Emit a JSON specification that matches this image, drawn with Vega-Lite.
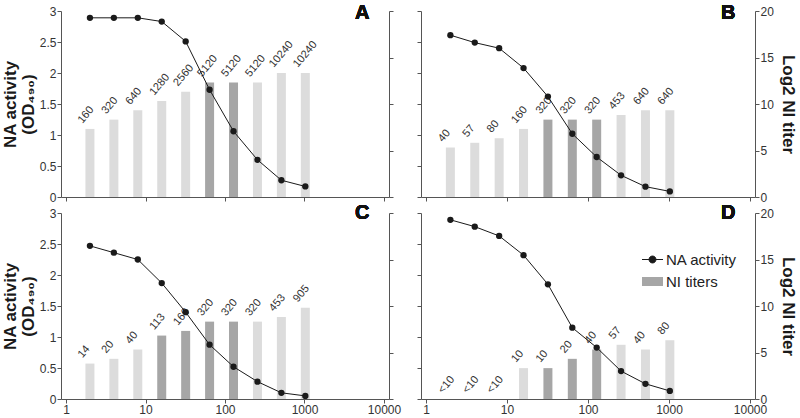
{
  "$schema": "https://vega.github.io/schema/vega-lite/v6.json",
  "padding": {"left": 1, "top": 2, "right": 1, "bottom": 1},
  "bounds": "flush",
  "columns": 2,
  "spacing": {"row": 16, "column": 32},
  "config": {
    "view": {"stroke": null},
    "font": "Liberation Sans",
    "axis": {"grid": false, "domainColor": "#555", "tickColor": "#555", "labelColor": "#333", "labelFontSize": 12, "labelFont": "Liberation Sans", "tickSize": 4, "labelPadding": 1, "titleFontSize": 17, "titleFontWeight": "bold", "titleColor": "#1a1a1a", "titleFont": "Liberation Sans"}
  },
  "datasets": {
    "A": [
      {"dil": 2, "na": 2.89, "log2": 7.32, "titer": "160", "shade": "light"},
      {"dil": 4, "na": 2.89, "log2": 8.32, "titer": "320", "shade": "light"},
      {"dil": 8, "na": 2.89, "log2": 9.32, "titer": "640", "shade": "light"},
      {"dil": 16, "na": 2.83, "log2": 10.32, "titer": "1280", "shade": "light"},
      {"dil": 32, "na": 2.51, "log2": 11.32, "titer": "2560", "shade": "light"},
      {"dil": 64, "na": 1.73, "log2": 12.32, "titer": "5120", "shade": "NI titers"},
      {"dil": 128, "na": 1.06, "log2": 12.32, "titer": "5120", "shade": "NI titers"},
      {"dil": 256, "na": 0.60, "log2": 12.32, "titer": "5120", "shade": "light"},
      {"dil": 512, "na": 0.27, "log2": 13.32, "titer": "10240", "shade": "light"},
      {"dil": 1024, "na": 0.17, "log2": 13.32, "titer": "10240", "shade": "light"}
    ],
    "B": [
      {"dil": 2, "na": 2.61, "log2": 5.32, "titer": "40", "shade": "light"},
      {"dil": 4, "na": 2.49, "log2": 5.83, "titer": "57", "shade": "light"},
      {"dil": 8, "na": 2.40, "log2": 6.32, "titer": "80", "shade": "light"},
      {"dil": 16, "na": 2.08, "log2": 7.32, "titer": "160", "shade": "light"},
      {"dil": 32, "na": 1.62, "log2": 8.32, "titer": "320", "shade": "NI titers"},
      {"dil": 64, "na": 1.02, "log2": 8.32, "titer": "320", "shade": "NI titers"},
      {"dil": 128, "na": 0.645, "log2": 8.32, "titer": "320", "shade": "NI titers"},
      {"dil": 256, "na": 0.35, "log2": 8.82, "titer": "453", "shade": "light"},
      {"dil": 512, "na": 0.167, "log2": 9.32, "titer": "640", "shade": "light"},
      {"dil": 1024, "na": 0.09, "log2": 9.32, "titer": "640", "shade": "light"}
    ],
    "C": [
      {"dil": 2, "na": 2.47, "log2": 3.81, "titer": "14", "shade": "light"},
      {"dil": 4, "na": 2.36, "log2": 4.32, "titer": "20", "shade": "light"},
      {"dil": 8, "na": 2.25, "log2": 5.32, "titer": "40", "shade": "light"},
      {"dil": 16, "na": 1.87, "log2": 6.82, "titer": "113", "shade": "NI titers"},
      {"dil": 32, "na": 1.40, "log2": 7.32, "titer": "160", "shade": "NI titers"},
      {"dil": 64, "na": 0.876, "log2": 8.32, "titer": "320", "shade": "NI titers"},
      {"dil": 128, "na": 0.52, "log2": 8.32, "titer": "320", "shade": "NI titers"},
      {"dil": 256, "na": 0.28, "log2": 8.32, "titer": "320", "shade": "light"},
      {"dil": 512, "na": 0.10, "log2": 8.82, "titer": "453", "shade": "light"},
      {"dil": 1024, "na": 0.05, "log2": 9.82, "titer": "905", "shade": "light"}
    ],
    "D": [
      {"dil": 2, "na": 2.89, "log2": 0, "titer": "<10", "shade": "light"},
      {"dil": 4, "na": 2.78, "log2": 0, "titer": "<10", "shade": "light"},
      {"dil": 8, "na": 2.63, "log2": 0, "titer": "<10", "shade": "light"},
      {"dil": 16, "na": 2.32, "log2": 3.32, "titer": "10", "shade": "light"},
      {"dil": 32, "na": 1.85, "log2": 3.32, "titer": "10", "shade": "NI titers"},
      {"dil": 64, "na": 1.15, "log2": 4.32, "titer": "20", "shade": "NI titers"},
      {"dil": 128, "na": 0.83, "log2": 5.32, "titer": "40", "shade": "NI titers"},
      {"dil": 256, "na": 0.45, "log2": 5.83, "titer": "57", "shade": "light"},
      {"dil": 512, "na": 0.245, "log2": 5.32, "titer": "40", "shade": "light"},
      {"dil": 1024, "na": 0.13, "log2": 6.32, "titer": "80", "shade": "light"}
    ]
  },
  "resolve": {"scale": {"color": "independent"}, "legend": {"color": "independent"}},
  "concat": [
    {
      "width": 328, "height": 186,
      "data": {"name": "A"},
      "encoding": {"x": {"field": "dil", "type": "quantitative", "scale": {"type": "log", "domain": [1, 10000], "nice": false}, "axis": {"values": [1, 10, 100, 1000, 10000], "labels": false, "title": null}}},
      "layer": [
        {
          "encoding": {"y": {"field": "log2", "type": "quantitative", "scale": {"domain": [0, 20], "nice": false}, "axis": {"orient": "right", "values": [0, 5, 10, 15, 20], "labels": false, "title": null}}},
          "layer": [
            {"mark": {"type": "bar", "size": 9, "orient": "vertical"}, "encoding": {"color": {"field": "shade", "type": "nominal", "scale": {"domain": ["NA activity", "NI titers", "light"], "range": ["#1a1a1a", "#a6a6a6", "#dcdcdc"]}, "legend": null}}},
            {"mark": {"type": "text", "angle": -50, "align": "left", "baseline": "bottom", "dx": -1, "dy": -7, "fontSize": 11, "color": "#333"}, "encoding": {"text": {"field": "titer"}}}
          ]
        },
        {
          "encoding": {"y": {"field": "na", "type": "quantitative", "scale": {"domain": [0, 3], "nice": false}, "axis": {"orient": "left", "values": [0, 0.5, 1, 1.5, 2, 2.5, 3], "format": "~g", "title": ["NA activity", "(OD₄₉₀)"], "titlePadding": 2, "titleLineHeight": 18}}},
          "layer": [
            {"mark": {"type": "line", "color": "#1a1a1a", "strokeWidth": 1}},
            {"mark": {"type": "point", "filled": true, "color": "#1a1a1a", "size": 40, "opacity": 1}},
            {"mark": {"type": "text", "text": "A", "align": "right", "baseline": "alphabetic", "fontSize": 20, "fontWeight": "bold", "color": "#111"}, "encoding": {"x": {"datum": 6560}, "y": {"datum": 2.875}}}
          ]
        }
      ],
      "resolve": {"scale": {"y": "independent"}}
    },
    {
      "width": 334, "height": 186,
      "data": {"name": "B"},
      "encoding": {"x": {"field": "dil", "type": "quantitative", "scale": {"type": "log", "domain": [1, 10000], "nice": false}, "axis": {"values": [1, 10, 100, 1000, 10000], "labels": false, "title": null}}},
      "layer": [
        {
          "encoding": {"y": {"field": "log2", "type": "quantitative", "scale": {"domain": [0, 20], "nice": false}, "axis": {"orient": "right", "values": [0, 5, 10, 15, 20], "title": "Log2 NI titer", "titlePadding": 5}}},
          "layer": [
            {"mark": {"type": "bar", "size": 9, "orient": "vertical"}, "encoding": {"color": {"field": "shade", "type": "nominal", "scale": {"domain": ["NA activity", "NI titers", "light"], "range": ["#1a1a1a", "#a6a6a6", "#dcdcdc"]}, "legend": null}}},
            {"mark": {"type": "text", "angle": -50, "align": "left", "baseline": "bottom", "dx": -1, "dy": -7, "fontSize": 11, "color": "#333"}, "encoding": {"text": {"field": "titer"}}}
          ]
        },
        {
          "encoding": {"y": {"field": "na", "type": "quantitative", "scale": {"domain": [0, 3], "nice": false}, "axis": {"orient": "left", "values": [0, 0.5, 1, 1.5, 2, 2.5, 3], "labels": false, "title": null}}},
          "layer": [
            {"mark": {"type": "line", "color": "#1a1a1a", "strokeWidth": 1}},
            {"mark": {"type": "point", "filled": true, "color": "#1a1a1a", "size": 40, "opacity": 1}},
            {"mark": {"type": "text", "text": "B", "align": "right", "baseline": "alphabetic", "fontSize": 20, "fontWeight": "bold", "color": "#111"}, "encoding": {"x": {"datum": 6610}, "y": {"datum": 2.875}}}
          ]
        }
      ],
      "resolve": {"scale": {"y": "independent"}}
    },
    {
      "width": 328, "height": 186,
      "data": {"name": "C"},
      "encoding": {"x": {"field": "dil", "type": "quantitative", "scale": {"type": "log", "domain": [1, 10000], "nice": false}, "axis": {"values": [1, 10, 100, 1000, 10000], "format": "d", "title": null}}},
      "layer": [
        {
          "encoding": {"y": {"field": "log2", "type": "quantitative", "scale": {"domain": [0, 20], "nice": false}, "axis": {"orient": "right", "values": [0, 5, 10, 15, 20], "labels": false, "title": null}}},
          "layer": [
            {"mark": {"type": "bar", "size": 9, "orient": "vertical"}, "encoding": {"color": {"field": "shade", "type": "nominal", "scale": {"domain": ["NA activity", "NI titers", "light"], "range": ["#1a1a1a", "#a6a6a6", "#dcdcdc"]}, "legend": null}}},
            {"mark": {"type": "text", "angle": -50, "align": "left", "baseline": "bottom", "dx": -1, "dy": -7, "fontSize": 11, "color": "#333"}, "encoding": {"text": {"field": "titer"}}}
          ]
        },
        {
          "encoding": {"y": {"field": "na", "type": "quantitative", "scale": {"domain": [0, 3], "nice": false}, "axis": {"orient": "left", "values": [0, 0.5, 1, 1.5, 2, 2.5, 3], "format": "~g", "title": ["NA activity", "(OD₄₉₀)"], "titlePadding": 2, "titleLineHeight": 18}}},
          "layer": [
            {"mark": {"type": "line", "color": "#1a1a1a", "strokeWidth": 1}},
            {"mark": {"type": "point", "filled": true, "color": "#1a1a1a", "size": 40, "opacity": 1}},
            {"mark": {"type": "text", "text": "C", "align": "right", "baseline": "alphabetic", "fontSize": 20, "fontWeight": "bold", "color": "#111"}, "encoding": {"x": {"datum": 6560}, "y": {"datum": 2.91}}}
          ]
        }
      ],
      "resolve": {"scale": {"y": "independent"}}
    },
    {
      "width": 334, "height": 186,
      "data": {"name": "D"},
      "encoding": {"x": {"field": "dil", "type": "quantitative", "scale": {"type": "log", "domain": [1, 10000], "nice": false}, "axis": {"values": [1, 10, 100, 1000, 10000], "format": "d", "title": null}}},
      "layer": [
        {
          "encoding": {"y": {"field": "log2", "type": "quantitative", "scale": {"domain": [0, 20], "nice": false}, "axis": {"orient": "right", "values": [0, 5, 10, 15, 20], "title": "Log2 NI titer", "titlePadding": 5}}},
          "layer": [
            {"mark": {"type": "bar", "size": 9, "orient": "vertical"}, "encoding": {"color": {"field": "shade", "type": "nominal", "scale": {"domain": ["NA activity", "NI titers", "light"], "range": ["#1a1a1a", "#a6a6a6", "#dcdcdc"]}, "legend": {"values": ["NA activity", "NI titers"], "orient": "none", "legendX": 224, "legendY": 39, "title": null, "labelFontSize": 15, "labelFont": "Liberation Sans", "labelColor": "#222", "labelOffset": 6, "rowPadding": 6, "symbolSize": 441, "encode": {"symbols": {"update": {"shape": {"signal": "datum.value === 'NA activity' ? 'M-1,0L1,0M0.33,0A0.33,0.33,0,1,1,-0.33,0A0.33,0.33,0,1,1,0.33,0Z' : 'M-1,-0.43L1,-0.43L1,0.43L-1,0.43Z'"}, "fill": {"signal": "datum.value === 'NA activity' ? '#1a1a1a' : '#a6a6a6'"}, "stroke": {"signal": "datum.value === 'NA activity' ? '#1a1a1a' : '#a6a6a6'"}, "strokeWidth": {"signal": "datum.value === 'NA activity' ? 1 : 0"}, "size": {"value": 441}, "opacity": {"value": 1}, "fillOpacity": {"value": 1}}}}}}}},
            {"mark": {"type": "text", "angle": -50, "align": "left", "baseline": "bottom", "dx": -1, "dy": -7, "fontSize": 11, "color": "#333"}, "encoding": {"text": {"field": "titer"}}}
          ]
        },
        {
          "encoding": {"y": {"field": "na", "type": "quantitative", "scale": {"domain": [0, 3], "nice": false}, "axis": {"orient": "left", "values": [0, 0.5, 1, 1.5, 2, 2.5, 3], "labels": false, "title": null}}},
          "layer": [
            {"mark": {"type": "line", "color": "#1a1a1a", "strokeWidth": 1}},
            {"mark": {"type": "point", "filled": true, "color": "#1a1a1a", "size": 40, "opacity": 1}},
            {"mark": {"type": "text", "text": "D", "align": "right", "baseline": "alphabetic", "fontSize": 20, "fontWeight": "bold", "color": "#111"}, "encoding": {"x": {"datum": 6610}, "y": {"datum": 2.91}}}
          ]
        }
      ],
      "resolve": {"scale": {"y": "independent"}}
    }
  ]
}
